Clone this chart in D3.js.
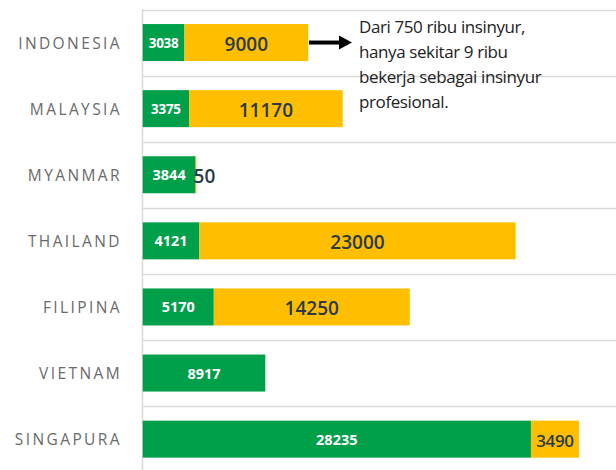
<!DOCTYPE html>
<html><head><meta charset="utf-8">
<script src="https://cdn.jsdelivr.net/npm/d3@7"></script>
<style>body{margin:0;background:#fff}svg{display:block}</style>
</head><body>
<svg id="c" width="616" height="470"></svg>
<script>
const countries = ["INDONESIA","MALAYSIA","MYANMAR","THAILAND","FILIPINA","VIETNAM","SINGAPURA"];
const greenValues = [3038,3375,3844,4121,5170,8917,28235];
const yellowValues = [9000,11170,50,23000,14250,0,3490];
const noteLines = ["Dari 750 ribu insinyur,","hanya sekitar 9 ribu","bekerja sebagai insinyur","profesional."];

const svg = d3.select("#c");
const x = d3.scaleLinear().domain([0,34420]).range([142.7,616]);
const y = d3.scaleBand().domain(countries).range([9.5,472.2]).paddingInner(0.44).paddingOuter(0.22);
const step = y.step();

// grid separators
const gridY = d3.range(countries.length+1).map(i=>9.5+i*step);
svg.selectAll("line.grid").data(gridY).join("line")
  .attr("x1",142.5).attr("x2",616).attr("y1",d=>Math.round(d)+0.5).attr("y2",d=>Math.round(d)+0.5)
  .attr("stroke","#d9d9d9").attr("stroke-width",1.5);
svg.append("line").attr("x1",142.5).attr("x2",142.5).attr("y1",9).attr("y2",470)
  .attr("stroke","#d9d9d9").attr("stroke-width",1.5);

const rows = countries.map((c,i)=>({c,g:greenValues[i],yv:yellowValues[i]}));
const segW = d => x(d.g+d.yv)-x(d.g);

// green bars
svg.selectAll("rect.g").data(rows).join("rect")
  .attr("x",x(0)).attr("y",d=>y(d.c)).attr("width",d=>x(d.g)-x(0)).attr("height",y.bandwidth())
  .attr("fill","#00a04a");
// yellow bars
svg.selectAll("rect.yb").data(rows.filter(d=>d.yv>0)).join("rect")
  .attr("x",d=>x(d.g)).attr("y",d=>y(d.c)).attr("width",segW).attr("height",y.bandwidth())
  .attr("fill","#ffbf00");

// green labels
svg.selectAll("text.gl").data(rows).join("text")
  .attr("x",d=>(x(0)+x(d.g))/2).attr("y",d=>y(d.c)+y.bandwidth()/2)
  .attr("text-anchor","middle").attr("dominant-baseline","central")
  .attr("font-family","Open Sans").attr("font-weight","bold").attr("font-size",d=>d.g<3500?13.5:14.5)
  .attr("letter-spacing",d=>d.g<3500?"-0.3px":"0px")
  .attr("fill","#fff").text(d=>d.g);
// yellow labels
const tiny = d => segW(d) < 20;
const narrow = d => segW(d) >= 20 && segW(d) < 60;
svg.selectAll("text.yl").data(rows.filter(d=>d.yv>0)).join("text")
  .attr("x",d=> tiny(d) ? x(d.g)-2 : (x(d.g)+x(d.g+d.yv))/2)
  .attr("y",d=>y(d.c)+y.bandwidth()/2+1)
  .attr("text-anchor",d=>tiny(d)?"start":"middle").attr("dominant-baseline","central")
  .attr("font-family","Open Sans").attr("font-weight","600").attr("font-size",d=>narrow(d)?17:19)
  .attr("letter-spacing",d=>narrow(d)?"-0.4px":"0px")
  .attr("fill","#2b3a46").text(d=>d.yv);

// category labels
svg.selectAll("text.cat").data(countries).join("text")
  .attr("x",122).attr("y",d=>y(d)+y.bandwidth()/2)
  .attr("text-anchor","end").attr("dominant-baseline","central")
  .attr("font-family","Open Sans").attr("font-size",15.5).attr("letter-spacing","2.4px")
  .attr("fill","#6a6a6a").text(d=>d);

// arrow
const ay = y("INDONESIA")+y.bandwidth()/2;
svg.append("line").attr("x1",309).attr("x2",341).attr("y1",ay).attr("y2",ay)
  .attr("stroke","#000").attr("stroke-width",4);
svg.append("path").attr("d",`M339,${ay-7}L352,${ay}L339,${ay+7}Z`).attr("fill","#000");

// note
svg.append("text").attr("font-family","Open Sans").attr("font-size",17).attr("fill","#222")
  .selectAll("tspan").data(noteLines).join("tspan")
  .attr("x",359).attr("y",(d,i)=>33+i*25).attr("letter-spacing","-0.4px").text(d=>d);
</script>
</body></html>
